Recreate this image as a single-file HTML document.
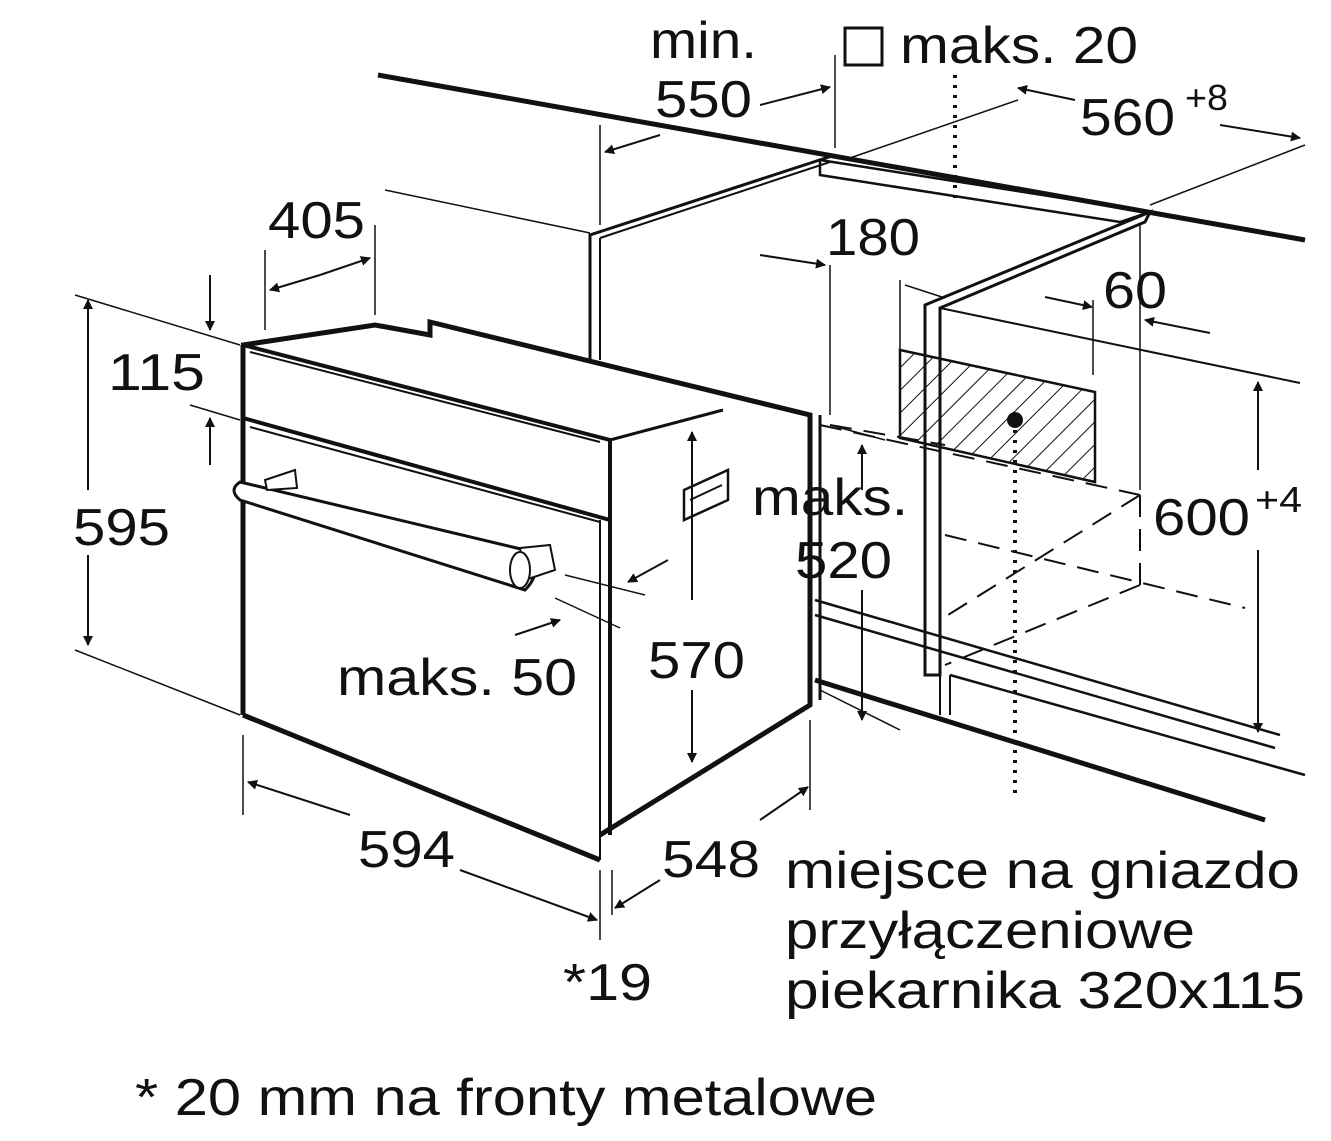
<!DOCTYPE html>
<html><head><meta charset="utf-8"><style>
html,body{margin:0;padding:0;background:#fff}
svg{display:block}
text{font-family:"Liberation Sans",sans-serif;fill:#111}
</style></head><body>
<svg width="1331" height="1141" viewBox="0 0 1331 1141" xmlns="http://www.w3.org/2000/svg">
<defs>
<pattern id="h" width="16" height="16" patternUnits="userSpaceOnUse" patternTransform="rotate(45)">
<line x1="0" y1="0" x2="0" y2="16" stroke="#111" stroke-width="2"/>
</pattern>
<marker id="a" markerWidth="10" markerHeight="10" refX="9" refY="5" orient="auto" markerUnits="userSpaceOnUse">
<path d="M0,0 L10,5 L0,10 Z" fill="#111"/></marker>
</defs>
<g stroke="#111" fill="none" stroke-width="2">
<line x1="378" y1="75" x2="1305" y2="240" stroke-width="5"/>
<polygon points="820,160 1150,212 1120,222 820,175" stroke-width="2.5"/>
<polyline points="835,155 590,235 590,360" stroke-width="3"/>
<line x1="600" y1="238" x2="600" y2="360"/>
<line x1="600" y1="238" x2="830" y2="162"/>
<polygon points="925,305 1150,212 1145,222 940,308 940,675 925,675" stroke-width="3" fill="#fff"/>
<line x1="940" y1="308" x2="1300" y2="383"/>
<line x1="940" y1="675" x2="940" y2="715"/>
<line x1="950" y1="675" x2="950" y2="715"/>
<line x1="815" y1="600" x2="1280" y2="735" stroke-width="2.5"/>
<line x1="815" y1="615" x2="1275" y2="748" stroke-width="2.5"/>
<line x1="815" y1="680" x2="1265" y2="820" stroke-width="5"/>
<line x1="950" y1="675" x2="1305" y2="775" stroke-width="2.5"/>
<polygon points="900,350 1095,392 1095,482 900,438" fill="url(#h)" stroke-width="2.5"/>
<g stroke-dasharray="22,12">
<line x1="820" y1="425" x2="1140" y2="495"/>
<line x1="1140" y1="495" x2="940" y2="620"/>
<line x1="945" y1="535" x2="1245" y2="608"/>
<line x1="1140" y1="495" x2="1140" y2="585"/>
<line x1="1140" y1="585" x2="945" y2="665"/>
<line x1="830" y1="425" x2="945" y2="445"/>
</g>
<line x1="955" y1="75" x2="955" y2="200" stroke-dasharray="3,7" stroke-width="4"/>
<line x1="1015" y1="420" x2="1015" y2="800" stroke-dasharray="3,7" stroke-width="4"/>
<circle cx="1015" cy="420" r="7" fill="#111"/>
<polygon points="375,325 810,415 810,705 600,860 243,715 243,345" fill="#fff" stroke="none"/>
<polyline points="243,345 375,325 430,335 430,322 810,415 810,705 600,835" stroke-width="5"/>
<polygon points="243,345 610,440 610,520 243,418" stroke-width="4"/>
<polyline points="610,440 723,410" stroke-width="3"/>
<line x1="243" y1="345" x2="243" y2="715" stroke-width="5"/>
<line x1="243" y1="715" x2="600" y2="860" stroke-width="5"/>
<line x1="610" y1="520" x2="610" y2="835" stroke-width="4"/>
<line x1="600" y1="520" x2="600" y2="860" stroke-width="2"/>
<line x1="250" y1="352" x2="600" y2="442"/>
<line x1="250" y1="427" x2="600" y2="522"/>
<line x1="820" y1="415" x2="820" y2="700" stroke-width="3"/>
<path d="M240,482 L525,550 Q545,570 525,590 L240,500 Q228,490 240,482 Z" stroke-width="3" fill="#fff"/>
<polygon points="265,480 295,470 297,488 267,490" fill="#fff"/>
<polygon points="520,548 550,545 555,570 525,580" fill="#fff"/>
<ellipse cx="520" cy="570" rx="10" ry="18" fill="#fff"/>
<polygon points="684,490 728,470 728,500 684,520" stroke-width="2.5"/>
<line x1="690" y1="500" x2="722" y2="485"/>
<line x1="75" y1="295" x2="240" y2="345" stroke-width="1.5"/>
<line x1="75" y1="650" x2="240" y2="715" stroke-width="1.5"/>
<line x1="88" y1="490" x2="88" y2="300" marker-end="url(#a)"/>
<line x1="88" y1="555" x2="88" y2="645" marker-end="url(#a)"/>
<line x1="190" y1="405" x2="240" y2="420" stroke-width="1.5"/>
<line x1="210" y1="275" x2="210" y2="330" marker-end="url(#a)"/>
<line x1="210" y1="465" x2="210" y2="418" marker-end="url(#a)"/>
<line x1="265" y1="250" x2="265" y2="330" stroke-width="1.5"/>
<line x1="375" y1="225" x2="375" y2="315" stroke-width="1.5"/>
<line x1="320" y1="275" x2="270" y2="290" marker-end="url(#a)"/>
<line x1="320" y1="275" x2="370" y2="258" marker-end="url(#a)"/>
<line x1="385" y1="190" x2="590" y2="233" stroke-width="1.5"/>
<line x1="243" y1="735" x2="243" y2="815" stroke-width="1.5"/>
<line x1="350" y1="815" x2="248" y2="782" marker-end="url(#a)"/>
<line x1="460" y1="870" x2="597" y2="920" marker-end="url(#a)"/>
<line x1="600" y1="870" x2="600" y2="940" stroke-width="1.5"/>
<line x1="612" y1="870" x2="612" y2="915" stroke-width="1.5"/>
<line x1="660" y1="880" x2="615" y2="908" marker-end="url(#a)"/>
<line x1="760" y1="820" x2="808" y2="787" marker-end="url(#a)"/>
<line x1="810" y1="720" x2="810" y2="810" stroke-width="1.5"/>
<line x1="692" y1="600" x2="692" y2="432" marker-end="url(#a)"/>
<line x1="692" y1="690" x2="692" y2="762" marker-end="url(#a)"/>
<line x1="565" y1="575" x2="645" y2="595" stroke-width="1.5"/>
<line x1="555" y1="598" x2="620" y2="628" stroke-width="1.5"/>
<line x1="668" y1="560" x2="628" y2="582" marker-end="url(#a)"/>
<line x1="515" y1="635" x2="560" y2="620" marker-end="url(#a)"/>
<line x1="835" y1="55" x2="835" y2="148" stroke-width="1.5"/>
<line x1="760" y1="105" x2="830" y2="87" marker-end="url(#a)"/>
<line x1="600" y1="125" x2="600" y2="225" stroke-width="1.5"/>
<line x1="660" y1="135" x2="605" y2="152" marker-end="url(#a)"/>
<line x1="1075" y1="100" x2="1018" y2="88" marker-end="url(#a)"/>
<line x1="1220" y1="125" x2="1300" y2="138" marker-end="url(#a)"/>
<line x1="850" y1="158" x2="1018" y2="100" stroke-width="1.5"/>
<line x1="1150" y1="205" x2="1305" y2="145" stroke-width="1.5"/>
<line x1="830" y1="265" x2="830" y2="415" stroke-width="1.5"/>
<line x1="760" y1="255" x2="825" y2="265" marker-end="url(#a)"/>
<line x1="900" y1="280" x2="900" y2="350" stroke-width="1.5"/>
<line x1="905" y1="285" x2="945" y2="298" stroke-width="1.5"/>
<line x1="1045" y1="297" x2="1092" y2="307" marker-end="url(#a)"/>
<line x1="1210" y1="333" x2="1145" y2="320" marker-end="url(#a)"/>
<line x1="1093" y1="300" x2="1093" y2="375" stroke-width="1.5"/>
<line x1="1140" y1="225" x2="1140" y2="490" stroke-width="1.5"/>
<line x1="1258" y1="470" x2="1258" y2="382" marker-end="url(#a)"/>
<line x1="1258" y1="550" x2="1258" y2="732" marker-end="url(#a)"/>
<line x1="862" y1="490" x2="862" y2="445" marker-end="url(#a)"/>
<line x1="862" y1="590" x2="862" y2="720" marker-end="url(#a)"/>
<line x1="820" y1="690" x2="900" y2="730" stroke-width="1.5"/>
<line x1="830" y1="425" x2="885" y2="440" stroke-width="1.5"/>
<rect x="845" y="28" width="37" height="37" stroke-width="3"/>
</g>
<g font-size="52">
<text x="650" y="58" textLength="107" lengthAdjust="spacingAndGlyphs">min.</text>
<text x="655" y="117" textLength="97" lengthAdjust="spacingAndGlyphs">550</text>
<text x="900" y="63" textLength="238" lengthAdjust="spacingAndGlyphs">maks. 20</text>
<text x="1080" y="135" textLength="95" lengthAdjust="spacingAndGlyphs">560</text><text x="1185" y="110" font-size="36" textLength="43" lengthAdjust="spacingAndGlyphs">+8</text>
<text x="268" y="238" textLength="97" lengthAdjust="spacingAndGlyphs">405</text>
<text x="826" y="255" textLength="94" lengthAdjust="spacingAndGlyphs">180</text>
<text x="1103" y="308" textLength="64" lengthAdjust="spacingAndGlyphs">60</text>
<text x="108" y="390" textLength="97" lengthAdjust="spacingAndGlyphs">115</text>
<text x="73" y="545" textLength="97" lengthAdjust="spacingAndGlyphs">595</text>
<text x="752" y="515" textLength="156" lengthAdjust="spacingAndGlyphs">maks.</text>
<text x="795" y="578" textLength="97" lengthAdjust="spacingAndGlyphs">520</text>
<text x="1153" y="535" textLength="97" lengthAdjust="spacingAndGlyphs">600</text><text x="1255" y="512" font-size="36" textLength="47" lengthAdjust="spacingAndGlyphs">+4</text>
<text x="648" y="678" textLength="97" lengthAdjust="spacingAndGlyphs">570</text>
<text x="337" y="695" textLength="240" lengthAdjust="spacingAndGlyphs">maks. 50</text>
<text x="358" y="867" textLength="97" lengthAdjust="spacingAndGlyphs">594</text>
<text x="662" y="877" textLength="98" lengthAdjust="spacingAndGlyphs">548</text>
<text x="563" y="1000" textLength="89" lengthAdjust="spacingAndGlyphs">*19</text>
<text x="785" y="888" textLength="515" lengthAdjust="spacingAndGlyphs">miejsce na gniazdo</text>
<text x="785" y="948" textLength="410" lengthAdjust="spacingAndGlyphs">przyłączeniowe</text>
<text x="785" y="1008" textLength="520" lengthAdjust="spacingAndGlyphs">piekarnika 320x115</text>
<text x="135" y="1115" textLength="742" lengthAdjust="spacingAndGlyphs">* 20 mm na fronty metalowe</text>
</g>
</svg>
</body></html>
